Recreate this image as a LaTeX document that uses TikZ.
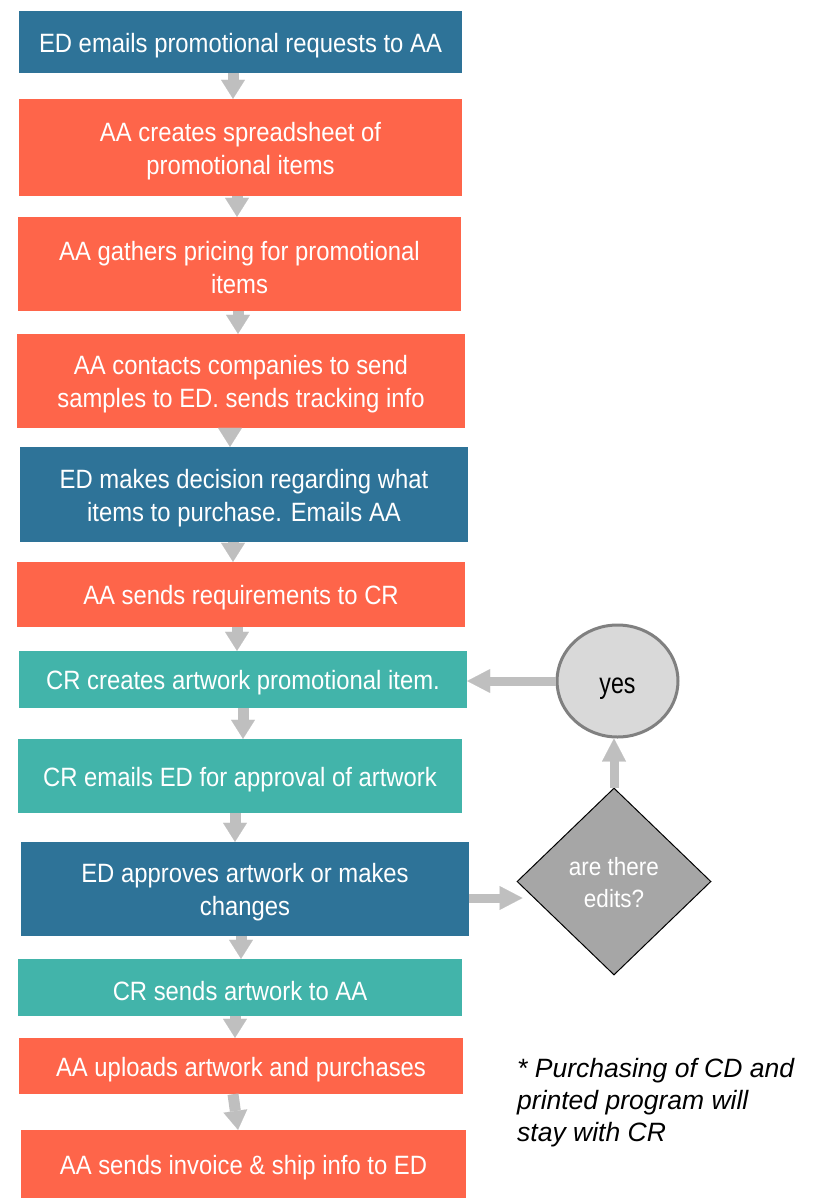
\documentclass[tikz,border=0pt]{standalone}
\usepackage{fontspec}
\setmainfont{Liberation Sans}
\newfontfamily\boxfont[FakeStretch=0.9]{Liberation Sans}
\newfontfamily\yesfont[FakeStretch=0.8]{Liberation Sans}
\usetikzlibrary{arrows.meta,shapes.geometric,calc}
\definecolor{edblue}{HTML}{2E7398}
\definecolor{aaorange}{HTML}{FE654A}
\definecolor{crteal}{HTML}{42B4AA}
\definecolor{arrgray}{HTML}{BFBFBF}
\definecolor{circfill}{HTML}{D9D9D9}
\definecolor{circline}{HTML}{808080}
\definecolor{diafill}{HTML}{A6A6A6}
\newcommand{\toprule}{\rule{0pt}{25.5pt}}
\begin{document}
\begin{tikzpicture}[x=1pt,y=-1pt,
  box/.style={rectangle, inner sep=0pt, text=white, align=center,
    font=\boxfont\fontsize{26.5}{33}\selectfont},
  edbox/.style={box, fill=edblue},
  aabox/.style={box, fill=aaorange},
  crbox/.style={box, fill=crteal},
  flow/.style={draw=arrgray, line width=11pt,
    -{Triangle[width=24pt,length=19pt,line width=0.1pt]}},
  sideflow/.style={draw=arrgray, line width=9pt,
    -{Triangle[width=24pt,length=23pt,line width=0.1pt]}},
  yesnode/.style={ellipse, draw=circline, line width=3pt, fill=circfill,
    minimum width=121pt, minimum height=112pt, inner sep=0pt,
    font=\yesfont\fontsize{29}{30}\selectfont},
  decnode/.style={diamond, draw=black, line width=1pt, fill=diafill,
    minimum width=194pt, minimum height=187pt, inner sep=0pt, text=white,
    align=center, font=\boxfont\fontsize{25}{32}\selectfont},
  notenode/.style={anchor=north west, align=left, inner sep=0pt,
    font=\itshape\fontsize{26.5}{32}\selectfont}
]
\useasboundingbox (0,0) rectangle (814,1199);

\node[edbox, minimum width=443pt, minimum height=62pt] (b1) at (240.5,42) {\toprule ED emails promotional requests to AA};
\node[aabox, minimum width=443pt, minimum height=97pt] (b2) at (240.5,147.5) {\toprule AA creates spreadsheet of\\promotional items};
\node[aabox, minimum width=443pt, minimum height=94pt] (b3) at (239.5,264) {\toprule AA gathers pricing for promotional\\items};
\node[aabox, minimum width=448pt, minimum height=94pt] (b4) at (241,381) {\toprule AA contacts companies to send\\samples to ED. sends tracking info};
\node[edbox, minimum width=448pt, minimum height=95pt] (b5) at (244,494.5) {\toprule ED makes decision regarding what\\items to purchase. Emails AA};
\node[aabox, minimum width=448pt, minimum height=65pt] (b6) at (241,594.5) {\toprule AA sends requirements to CR};
\node[crbox, minimum width=448pt, minimum height=57pt] (b7) at (243,679.5) {\toprule CR creates artwork promotional item.};
\node[crbox, minimum width=444pt, minimum height=74pt] (b8) at (240,776) {\toprule CR emails ED for approval of artwork};
\node[edbox, minimum width=448pt, minimum height=94pt] (b9) at (245,889) {\toprule ED approves artwork or makes\\changes};
\node[crbox, minimum width=444pt, minimum height=57pt] (b10) at (240,987.5) {\toprule CR sends artwork to AA};
\node[aabox, minimum width=444pt, minimum height=56pt] (b11) at (241,1066) {\toprule AA uploads artwork and purchases};
\node[aabox, minimum width=445pt, minimum height=68pt] (b12) at (243.5,1164) {\toprule AA sends invoice \& ship info to ED};

\node[yesnode] (yes) at (617.5,681) {\raisebox{-12pt}[0pt][0pt]{yes}};
\node[decnode] (dec) at (614,881.5) {\rule{0pt}{21pt}are there\\edits?};

\node[notenode] (note) at (517,1058) {* Purchasing of CD and\\printed program will\\stay with CR};

\draw[flow] ([xshift=-7.5pt]b1.south) -- ([xshift=-7.5pt]b1.south |- b2.north);
\draw[flow] ([xshift=-3.5pt]b2.south) -- ([xshift=-3.5pt]b2.south |- b3.north);
\draw[flow] ([xshift=-1.5pt]b3.south) -- ([xshift=-1.5pt]b3.south |- b4.north);
\draw[flow] ([xshift=-11pt]b4.south) -- ([xshift=-11pt]b4.south |- b5.north);
\draw[flow] ([xshift=-11pt]b5.south) -- ([xshift=-11pt]b5.south |- b6.north);
\draw[flow] ([xshift=-4pt]b6.south) -- ([xshift=-4pt]b6.south |- b7.north);
\draw[flow] (b7.south) -- (b7.south |- b8.north);
\draw[flow] ([xshift=-5pt]b8.south) -- ([xshift=-5pt]b8.south |- b9.north);
\draw[flow] ([xshift=-4pt]b9.south) -- ([xshift=-4pt]b9.south |- b10.north);
\draw[flow] ([xshift=-5pt]b10.south) -- ([xshift=-5pt]b10.south |- b11.north);
\draw[flow] ([xshift=-8pt]b11.south) -- ([xshift=-5.5pt]b12.north);

\draw[sideflow] (yes.west) -- (b7.east |- yes.west);
\draw[sideflow] (dec.north) -- (dec.north |- yes.south);
\draw[sideflow] ([yshift=-9pt]b9.east) -- ([xshift=6pt,yshift=-16.5pt]dec.west);
\end{tikzpicture}
\end{document}
